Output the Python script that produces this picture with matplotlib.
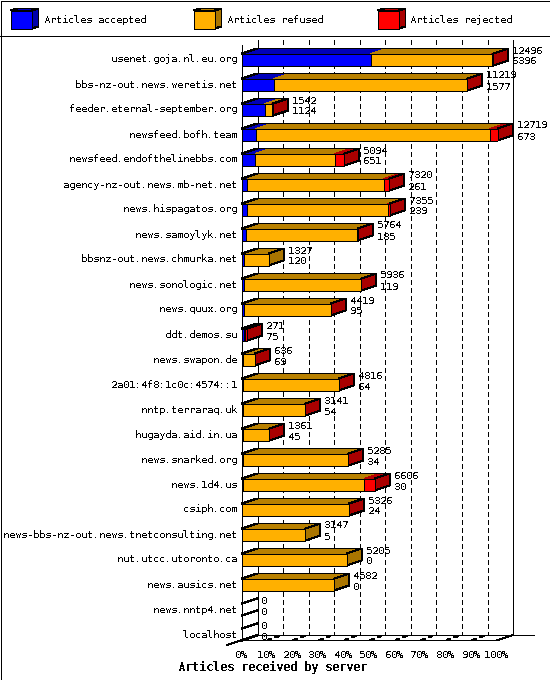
import matplotlib
matplotlib.use('Agg')
import matplotlib.pyplot as plt
from matplotlib.patches import Polygon, Rectangle
from matplotlib.transforms import Affine2D, offset_copy

servers = ['usenet.goja.nl.eu.org', 'bbs-nz-out.news.weretis.net', 'feeder.eternal-september.org',
           'newsfeed.bofh.team', 'newsfeed.endofthelinebbs.com', 'agency-nz-out.news.mb-net.net',
           'news.hispagatos.org', 'news.samoylyk.net', 'bbsnz-out.news.chmurka.net', 'news.sonologic.net',
           'news.quux.org', 'ddt.demos.su', 'news.swapon.de', '2a01:4f8:1c0c:4574::1', 'nntp.terraraq.uk',
           'hugayda.aid.in.ua', 'news.snarked.org', 'news.1d4.us', 'csiph.com',
           'news-bbs-nz-out.news.tnetconsulting.net', 'nut.utcc.utoronto.ca', 'news.ausics.net',
           'news.nntp4.net', 'localhost']
totals = [12496, 11219, 1542, 12719, 5094, 7320, 7355, 5764, 1327, 5936, 4419, 271,
          636, 4816, 3141, 1361, 5285, 6606, 5326, 3147, 5205, 4582, 0, 0]
accepted = [6396, 1577, 1124, 673, 651, 261, 239, 185, 120, 119, 95, 75,
            69, 64, 54, 45, 34, 30, 24, 5, 0, 0, 0, 0]
refused = [6040, 9602, 358, 11666, 3973, 6789, 7006, 5549, 1207, 5807, 4314, 86,
           557, 4742, 3077, 1306, 5241, 6059, 5292, 3142, 5205, 4582, 0, 0]
rejected = [60, 40, 60, 380, 470, 270, 110, 30, 0, 10, 10, 110,
            10, 10, 10, 10, 10, 517, 10, 0, 0, 0, 0, 0]
pct_ticks = [0, 10, 20, 30, 40, 50, 60, 70, 80, 90, 100]

face_cols = ['#0000ff', '#ffb000', '#ff0000']
side_cols = ['#0000aa', '#aa7500', '#aa0000']
top_cols = ['#0000b8', '#b88000', '#b80000']
legend_names = ['Articles accepted', 'Articles refused', 'Articles rejected']

plt.rcParams['font.family'] = ['DejaVu Sans Mono']
plt.rcParams['font.size'] = 7.3
plt.rcParams['text.antialiased'] = False
plt.rcParams['text.hinting'] = 'native'
plt.rcParams['text.hinting_factor'] = 1
plt.rcParams['lines.antialiased'] = False
plt.rcParams['patch.antialiased'] = False
plt.rcParams['lines.scale_dashes'] = False

W, H = 550, 680
LW = 0.72
fig = plt.figure(figsize=(W / 100, H / 100), dpi=100)

# header, frame and legend in plain pixels
bg = fig.add_axes([0, 0, 1, 1])
bg.set_xlim(0, W)
bg.set_ylim(H, 0)
bg.axis('off')
bg.add_patch(Rectangle((0.5, 0.5), W - 1, H - 1, fc='white', ec='black', lw=LW))
bg.plot([0, W], [35.5, 35.5], color='black', lw=LW)
for x0, xt, name, fc, sc, tc in zip([10.5, 193.5, 377.5], [44, 227, 410], legend_names,
                                    face_cols, side_cols, top_cols):
    bg.add_patch(Polygon([(x0, 10.5), (x0 + 7, 8.5), (x0 + 28, 8.5), (x0 + 21, 10.5)], fc=tc, ec='black', lw=LW))
    bg.add_patch(Polygon([(x0 + 21, 10.5), (x0 + 28, 8.5), (x0 + 28, 26.5), (x0 + 21, 28.5)], fc=sc, ec='black', lw=LW))
    bg.add_patch(Rectangle((x0, 10.5), 21, 18, fc=fc, ec='black', lw=LW))
    bg.text(xt, 20, name, va='center', ha='left')

# plot area: x is articles, 100% = biggest server
left, right, top, bottom = 242, 497.6, 45, 640
ax = fig.add_axes([left / W, 1 - bottom / H, (right - left) / W, (bottom - top) / H])
ax.patch.set_alpha(0)
ax.set_xlim(0, max(totals))
row_px = 25
ax.set_ylim((bottom - 59.5) / row_px, (top - 59.5) / row_px)

DX = 15 * max(totals) / (right - left)
DY = 5 / row_px
HALF = 6 / row_px
xt = [max(totals) * p / 100 for p in pct_ticks]

# back wall and dashed grid
back = offset_copy(ax.transData, fig, x=15.5, y=5, units='dots')
ax_top = ax.get_ylim()[1] - 0.2
ax_bot = ax.get_ylim()[0]
dash = (0, (5 * LW, 3 * LW))
for i, x in enumerate(xt):
    solid = i in (0, len(xt) - 1)
    ax.plot([x, x], [ax_top + DY, ax_bot], transform=back, color='black', lw=LW,
            ls='-' if solid else dash, clip_on=False, zorder=1)
    if 0 < i < len(xt) - 1:
        ax.plot([x, x + DX], [ax_bot, ax_bot - DY], color='black', lw=LW, ls=dash, clip_on=False, zorder=1)
ax.plot([xt[-1], xt[-1] + DX], [ax_bot, ax_bot - DY], color='black', lw=LW, clip_on=False, zorder=1)
ax.plot([-DX, DX], [ax_bot + DY, ax_bot - DY], color='black', lw=LW, clip_on=False, zorder=1)
ax.plot([DX, xt[-1] + 1.2 * DX * 2], [ax_bot - DY, ax_bot - DY], color='black', lw=LW, clip_on=False, zorder=1)

rows = list(range(len(servers)))
start = [0] * len(servers)
for vals, fc in zip([accepted, refused, rejected], face_cols):
    ax.barh(rows, vals, left=start, height=2 * HALF, color=fc, edgecolor='black', linewidth=LW, zorder=3)
    start = [s + v for s, v in zip(start, vals)]

for r in rows:
    y0 = r - HALF
    y1 = r + HALF
    end = totals[r]
    x = 0
    last = None
    for vals, tc, sc in zip([accepted, refused, rejected], top_cols, side_cols):
        v = vals[r]
        if v > 0:
            ax.add_patch(Polygon([(x, y0), (x + DX, y0 - DY), (x + v + DX, y0 - DY), (x + v, y0)],
                                 fc=tc, ec='none', zorder=2, clip_on=False))
            last = sc
        x += v
    if end > 0:
        ax.add_patch(Polygon([(end, y0), (end + DX, y0 - DY), (end + DX, y1 - DY), (end, y1)],
                             fc=last, ec='black', lw=LW, zorder=2, clip_on=False))
        ax.plot([0, end], [y0, y0], color='black', lw=LW, zorder=3, clip_on=False)
    ax.plot([0, DX, end + DX], [y0, y0 - DY, y0 - DY], color='black', lw=LW, zorder=2, clip_on=False)
    if end == 0:
        ax.plot([0, DX], [y1, y1 - DY], color='black', lw=LW, zorder=2, clip_on=False)
    ax.annotate(str(totals[r]), (end, r), xytext=(19, 9), textcoords='offset pixels', va='center', zorder=5)
    ax.annotate(str(accepted[r]), (end, r), xytext=(19, -2), textcoords='offset pixels', va='center', zorder=5)

ax.set_yticks(rows)
ax.set_yticklabels(servers)
ax.set_xticks(xt)
ax.set_xticklabels([str(p) + '%' for p in pct_ticks])
ax.tick_params(length=0, pad=3.5)
ax.tick_params(axis='x', pad=7)
for lab in ax.get_yticklabels():
    lab.set_transform(lab.get_transform() + Affine2D().translate(0, 1))
for lab in ax.get_xticklabels():
    lab.set_transform(lab.get_transform() + Affine2D().translate(-1.5, 0))
for s in ['top', 'right']:
    ax.spines[s].set_visible(False)
for s in ['left', 'bottom']:
    ax.spines[s].set_linewidth(LW)
    ax.spines[s].set_zorder(4)
ax.set_xlabel('Articles received by server', fontweight='bold', fontsize=8.6, labelpad=1, x=0.12)

fig.savefig('out.png', dpi=100)
